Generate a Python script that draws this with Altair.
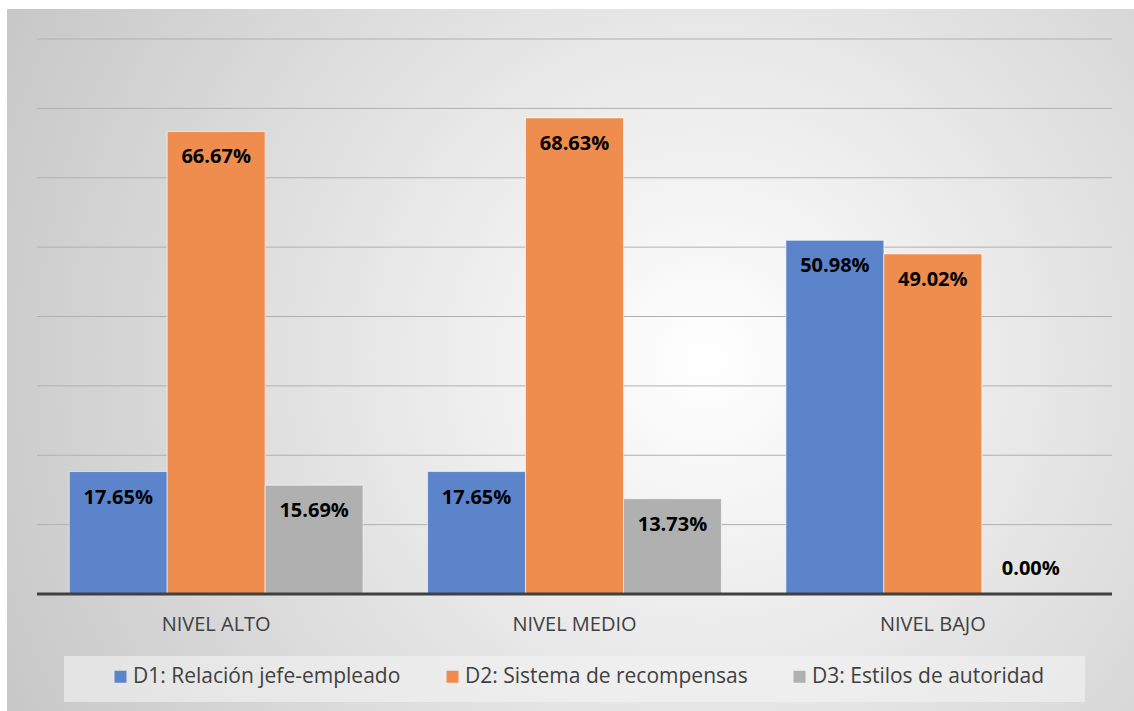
import altair as alt
import pandas as pd

niveles = ["NIVEL ALTO", "NIVEL MEDIO", "NIVEL BAJO"]
series = ["D1: Relación jefe-empleado", "D2: Sistema de recompensas", "D3: Estilos de autoridad"]
d1 = [17.65, 17.65, 50.98]
d2 = [66.67, 68.63, 49.02]
d3 = [15.69, 13.73, 0.00]
colors = ["#5B84CB", "#EE8D4E", "#B0B0B0"]
grid_values = [10, 20, 30, 40, 50, 60, 70, 80]

rows = []
for i, n in enumerate(niveles):
    for s, vals in zip(series, [d1, d2, d3]):
        rows.append({"nivel": n, "serie": s, "valor": vals[i], "etiqueta": f"{vals[i]:.2f}%"})
df = pd.DataFrame(rows)

W, H = 1075, 555
FONT = "Open Sans"
yscale = alt.Scale(domain=[0, 80])

bg = alt.Chart(pd.DataFrame({"a": [0]})).mark_rect(
    fill=alt.RadialGradient(
        gradient="radial", x1=0.62, y1=0.5, x2=0.62, y2=0.5, r1=0.0, r2=0.78,
        stops=[alt.GradientStop(offset=0, color="#ffffff"),
               alt.GradientStop(offset=1, color="#c0c0c0")]),
    clip=False,
).encode(x=alt.value(-30), x2=alt.value(W + 22), y=alt.value(-30), y2=alt.value(H + 117))

legbox = alt.Chart(pd.DataFrame({"a": [0]})).mark_rect(
    fill="#f4f4f4", opacity=0.6, clip=False
).encode(x=alt.value(27), x2=alt.value(1048), y=alt.value(617), y2=alt.value(663))

grid = alt.Chart(pd.DataFrame({"g": grid_values})).mark_rule(color="#b0b0b0", strokeWidth=1).encode(
    y=alt.Y("g:Q", scale=yscale, axis=None), x=alt.value(0), x2=alt.value(W))

base = alt.Chart(df).encode(
    x=alt.X("nivel:N", sort=niveles, title=None,
            scale=alt.Scale(paddingInner=0.18, paddingOuter=0.09),
            axis=alt.Axis(labelFont=FONT, labelFontSize=20, labelColor="#404040",
                          labelPadding=20, ticks=False, domain=False, labelAngle=0, zindex=1)),
    xOffset=alt.XOffset("serie:N", sort=series, scale=alt.Scale(paddingInner=0.0, paddingOuter=0.0)),
)

bars = base.mark_bar(stroke="#ffffff", strokeOpacity=0.6, strokeWidth=1).encode(
    y=alt.Y("valor:Q", scale=yscale, title=None, axis=None),
    color=alt.Color("serie:N", sort=series, scale=alt.Scale(domain=series, range=colors),
                    legend=alt.Legend(title=None, orient="none", legendX=73, legendY=627,
                                      direction="horizontal", symbolType="square", symbolSize=144,
                                      symbolStrokeWidth=0, labelFont=FONT, labelFontSize=21,
                                      labelColor="#404040", labelOffset=2, columnPadding=41,
                                      labelLimit=400, zindex=1)),
)

labels_pos = base.transform_filter("datum.valor > 0").mark_text(
    font=FONT, fontSize=20, fontWeight="bold", color="#000000", dy=26
).encode(y=alt.Y("valor:Q", scale=yscale), text="etiqueta:N")

labels_zero = base.transform_filter("datum.valor == 0").mark_text(
    font=FONT, fontSize=20, fontWeight="bold", color="#000000", dy=-25
).encode(y=alt.Y("valor:Q", scale=yscale), text="etiqueta:N")

baseline = alt.Chart(pd.DataFrame({"a": [0]})).mark_rule(color="#404040", strokeWidth=3).encode(
    x=alt.value(0), x2=alt.value(W), y=alt.value(H))

chart = alt.layer(bg, legbox, grid, bars, baseline, labels_pos, labels_zero).properties(
    width=W, height=H,
    padding={"left": 37, "top": 39, "right": 22, "bottom": 117},
    autosize=alt.AutoSizeParams(type="none"),
).configure_view(stroke=None).configure(background="#ffffff")

chart.save("out.html", embed_options={"renderer": "svg", "actions": False})
